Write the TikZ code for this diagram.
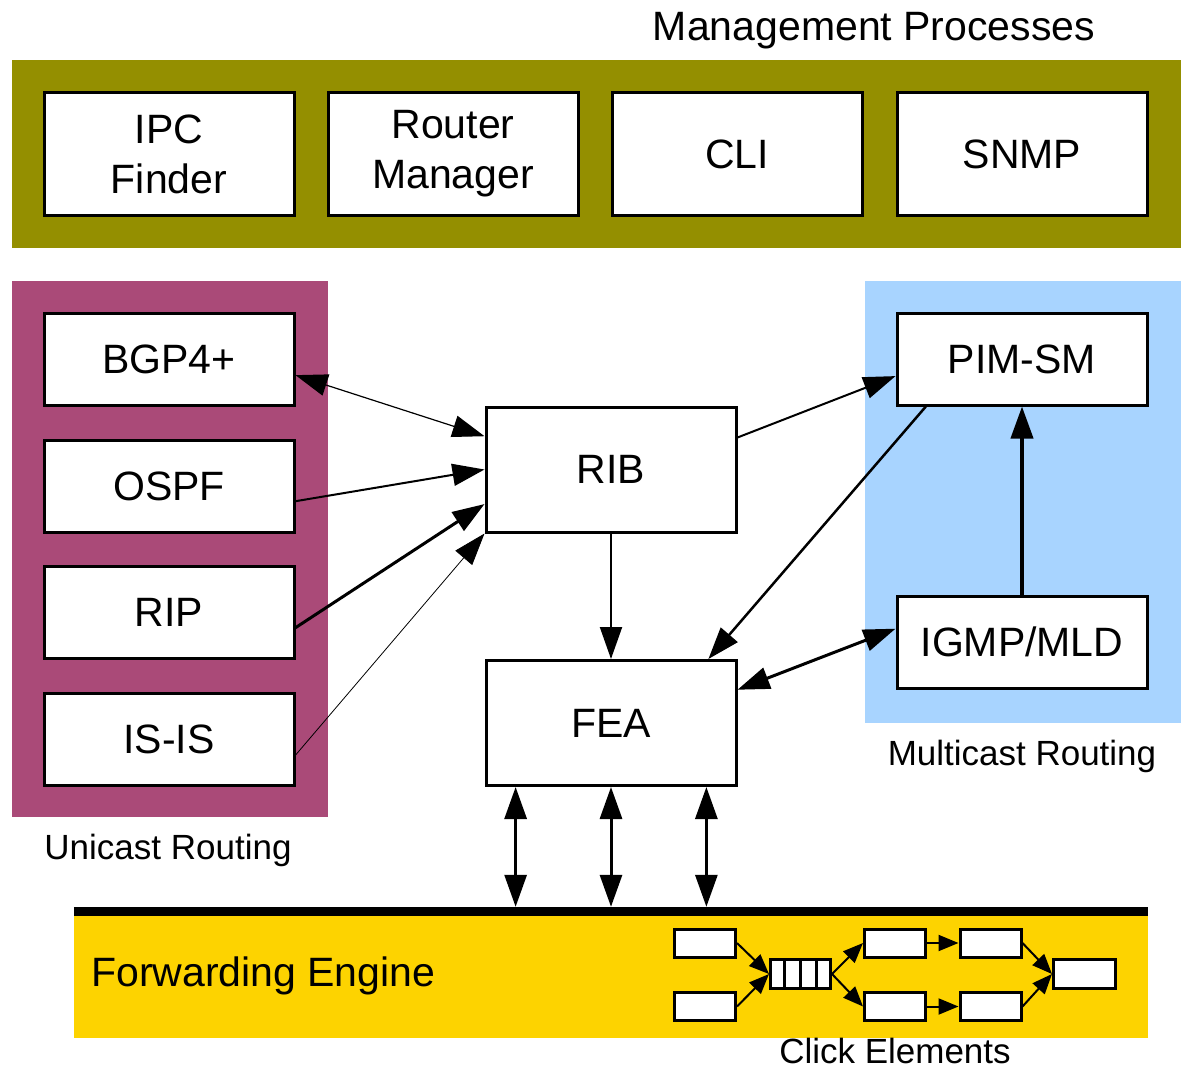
\documentclass[tikz,border=0pt]{standalone}
\usepackage{fontspec}
\setmainfont{Liberation Sans}
\usetikzlibrary{arrows.meta,calc}
\definecolor{mgmt}{HTML}{948F00}
\definecolor{ucast}{HTML}{AA4A78}
\definecolor{mcast}{HTML}{A8D4FF}
\definecolor{fwd}{HTML}{FDD300}

\begin{document}
\begin{tikzpicture}[x=1pt,y=-1pt,
  band/.style={inner sep=0pt, draw=none},
  proc/.style={draw=black, line width=3pt, fill=white, inner sep=0pt,
    font=\fontsize{41}{50}\selectfont, align=center},
  mbox/.style={proc, minimum width=250pt, minimum height=123pt},
  rbox/.style={proc, minimum width=250pt, minimum height=92pt},
  cbox/.style={proc, minimum width=61pt, minimum height=28pt},
  biglbl/.style={font=\fontsize{41}{50}\selectfont, inner sep=0pt},
  smalllbl/.style={font=\fontsize{35}{42}\selectfont, inner sep=0pt},
  tip/.style={-{Triangle[length=32pt,width=22pt]}},
  tips/.style={{Triangle[length=32pt,width=22pt]}-{Triangle[length=32pt,width=22pt]}},
  ctip/.style={-{Triangle[length=20pt,width=16pt]}, line width=2pt}]

\useasboundingbox (0,0) rectangle (1184,1068);

% coloured regions
\node[band, fill=mgmt, minimum width=1169pt, minimum height=188pt] (mgmtband) at (596.5,154) {};
\node[band, fill=ucast, minimum width=316pt, minimum height=536pt] (ucastband) at (170,549) {};
\node[band, fill=mcast, minimum width=316pt, minimum height=442pt] (mcastband) at (1023,502) {};
\node[band, fill=fwd, minimum width=1074pt, minimum height=126.5pt] (fe) at (611,974.75) {};
\draw[line width=9pt] (fe.north west) -- (fe.north east);

% region labels
\node[biglbl, anchor=base] (mgmtlbl) at (874,40) {Management Processes};
\node[smalllbl, anchor=base] (ulbl) at (168,859) {Unicast Routing};
\node[smalllbl, anchor=base] (mlbl) at (1022,765) {Multicast Routing};
\node[smalllbl, anchor=base] (clbl) at (895,1063) {Click Elements};
\node[biglbl, anchor=base west] (fwdlbl) at (91,986) {Forwarding Engine};

% management processes
\node[mbox] (ipc)  at (169,154)  {IPC\\Finder};
\node[mbox] (rtr)  at (453,154)  {Router\\Manager};
\node[mbox] (cli)  at (737,154)  {CLI};
\node[mbox] (snmp) at (1022,154) {SNMP};

% unicast routing
\node[rbox] (bgp)  at (169,359)   {BGP4+};
\node[rbox] (ospf) at (169,486)   {OSPF};
\node[rbox] (rip)  at (169,612.5) {RIP};
\node[rbox] (isis) at (169,739)   {IS-IS};

% multicast routing
\node[rbox] (pim)  at (1022,359) {PIM-SM};
\node[rbox] (igmp) at (1022,642) {IGMP/MLD};

% core
\node[proc, minimum width=250pt, minimum height=125pt] (rib) at (611,469.5) {RIB};
\node[proc, minimum width=250pt, minimum height=125pt] (fea) at (611,723) {FEA};

% routing protocols to RIB
\draw[tips, line width=1.2pt] ($(bgp.south east)!0.33!(bgp.north east)$) -- ($(rib.north west)!0.24!(rib.south west)$);
\draw[tip, line width=2pt] ($(ospf.north east)!0.66!(ospf.south east)$) -- (rib.west);
\draw[tip, line width=3pt] ($(rip.north east)!0.66!(rip.south east)$) -- ($(rib.north west)!0.77!(rib.south west)$);
\draw[tip, line width=0.8pt] ($(isis.north east)!0.67!(isis.south east)$) -- (rib.south west);

% RIB, FEA and multicast
\draw[tip, line width=2pt] ($(rib.north east)!0.25!(rib.south east)$) -- ($(pim.north west)!0.68!(pim.south west)$);
\draw[tip, line width=2.5pt] ($(pim.south west)!0.12!(pim.south east)$) -- ($(fea.north west)!0.885!(fea.north east)$);
\draw[tips, line width=3pt] ($(igmp.north west)!0.36!(igmp.south west)$) -- ($(fea.north east)!0.24!(fea.south east)$);
\draw[tip, line width=4pt] (igmp.north) -- (pim.south);
\draw[tip, line width=2pt] (rib.south) -- (fea.north);

% FEA to forwarding engine
\foreach \f [count=\i] in {0.123,0.5,0.877} {
  \coordinate (fp\i) at ($(fea.south west)!\f!(fea.south east)$);
  \draw[tips, line width=3pt, shorten >=4.5pt] (fp\i) -- (fp\i |- fe.north);
}

% click element graph
\node[cbox] (c1) at (705,943)      {};
\node[cbox] (c2) at (705,1006.5)   {};
\node[cbox, minimum width=60pt, minimum height=29pt] (q) at (800.5,974) {};
\foreach \f in {0.25,0.5,0.75}
  \draw[line width=3pt] ($(q.north west)!\f!(q.north east)$) -- ($(q.south west)!\f!(q.south east)$);
\node[cbox] (c3) at (895,943)      {};
\node[cbox] (c4) at (895,1006.5)   {};
\node[cbox] (c5) at (990.5,943)    {};
\node[cbox] (c6) at (990.5,1006.5) {};
\node[cbox, minimum width=62pt, minimum height=29pt] (c7) at (1084.5,974) {};

\draw[ctip] (c1.east) -- (q.west);
\draw[ctip] (c2.east) -- (q.west);
\draw[ctip] (q.east) -- (c3.west);
\draw[ctip] (q.east) -- (c4.west);
\draw[ctip] (c3.east) -- (c5.west);
\draw[ctip] (c4.east) -- (c6.west);
\draw[ctip] (c5.east) -- (c7.west);
\draw[ctip] (c6.east) -- (c7.west);

\end{tikzpicture}
\end{document}
